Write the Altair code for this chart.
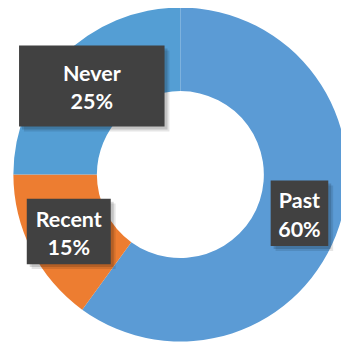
import math
import altair as alt
import pandas as pd

# data
categories = ["Past", "Recent", "Never"]
values = [60, 15, 25]
colors = ["#5B9BD5", "#ED7D31", "#549ED4"]

# layout / style
W, H = 341, 340
CX, CY = 176.5, 166.5
R_OUT, R_IN = 171, 85.5
R_LBL = (R_OUT + R_IN) / 2
box_half_w = {"Past": 29.5, "Recent": 43, "Never": 74.5}
box_half_h = {"Past": 33.5, "Recent": 33.5, "Never": 41.5}

total = sum(values)
rows = []
acc = 0
for c, v in zip(categories, values):
    mid = (acc + v / 2) / total * 2 * math.pi
    acc += v
    lx = R_LBL * math.sin(mid)
    ly = -R_LBL * math.cos(mid)
    rows.append(dict(cat=c, val=v, label=f"{c}\n{round(v / total * 100)}%",
                     lx=lx, ly=ly,
                     x1=lx - box_half_w[c], x2=lx + box_half_w[c],
                     y1=ly - box_half_h[c], y2=ly + box_half_h[c]))
df = pd.DataFrame(rows)

xs = alt.Scale(domain=[-CX, W - CX], range=[0, W], nice=False, zero=False)
ys = alt.Scale(domain=[-CY, H - CY], range=[0, H], nice=False, zero=False)

base = alt.Chart(df)

arcs = base.mark_arc(innerRadius=R_IN, outerRadius=R_OUT, strokeWidth=0).encode(
    theta=alt.Theta("val:Q", stack=True),
    order=alt.Order("order:Q"),
    color=alt.Color("cat:N", scale=alt.Scale(domain=categories, range=colors), legend=None),
    x=alt.value(CX), y=alt.value(CY),
).transform_calculate(order="indexof(['Past','Recent','Never'], datum.cat)")

def box_layer(color, opacity, off):
    return base.mark_rect(color=color, opacity=opacity, xOffset=off, yOffset=off,
                          x2Offset=off, y2Offset=off).encode(
        x=alt.X("x1:Q", scale=xs, axis=None), x2="x2:Q",
        y=alt.Y("y1:Q", scale=ys, axis=None), y2="y2:Q",
    )

shadow1 = box_layer("#000000", 0.10, 5)
shadow2 = box_layer("#000000", 0.15, 3)
boxes = box_layer("#414141", 1, 0)

texts = base.mark_text(color="white", font="Lato", fontWeight="bold", fontSize=22,
                       lineBreak="\n", lineHeight=29, align="center", baseline="alphabetic", dy=-5).encode(
    x=alt.X("lx:Q", scale=xs, axis=None),
    y=alt.Y("ly:Q", scale=ys, axis=None),
    text="label:N",
)

chart = alt.layer(arcs, shadow1, shadow2, boxes, texts).properties(
    width=W, height=H, padding=0, autosize=alt.AutoSizeParams(type="none"),
).configure_view(stroke=None)

chart.save("out.html", embed_options={"renderer": "svg", "actions": False})
